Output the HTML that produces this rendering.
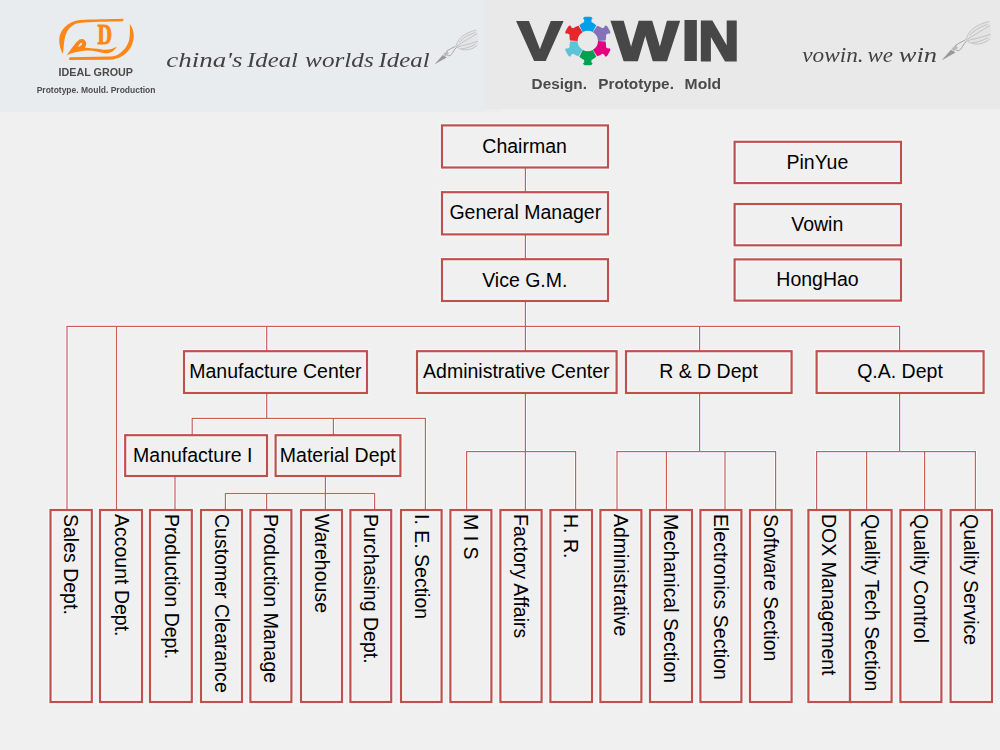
<!DOCTYPE html>
<html lang="en"><head><meta charset="utf-8"><title>Organization Chart</title>
<style>
html,body{margin:0;padding:0;background:#f0f0f0;}
body{width:1000px;height:750px;overflow:hidden;position:relative;font-family:"Liberation Sans",Arial,sans-serif;}
svg{position:absolute;left:0;top:0;display:block}
text{font-family:"Liberation Sans",Arial,sans-serif;}
.b{fill:none;stroke:#c0504d;stroke-width:2.2}
.l{fill:#c8605d}
text.bd{font-weight:bold}
text.s{font-family:"Liberation Serif",serif;font-style:italic}
.hd text{filter:grayscale(1)}
.hd text.og{filter:none;font-family:"Liberation Serif",serif;font-weight:bold}
.t{font-size:19.5px;fill:#000;text-anchor:middle}
.v{font-size:19.5px;fill:#000;text-anchor:start}
</style></head><body>
<svg width="1000" height="750" viewBox="0 0 1000 750">

<g class="hd">
<rect x="0" y="0" width="484" height="112.2" fill="#e9ecee"/>
<rect x="484" y="0" width="516" height="109.2" fill="#e9e9e9"/>
<rect x="484" y="109" width="18" height="3.2" fill="#eceeee"/>
<text font-weight="bold" font-size="100" fill="#4a4645" transform="translate(517.6,59.8) scale(0.6698,0.5518)" stroke="#4a4645" stroke-width="2.4" vector-effect="non-scaling-stroke" stroke-linejoin="miter" stroke-miterlimit="2">V</text>
<text font-weight="bold" font-size="100" fill="#4a4645" transform="translate(612.3,59.7) scale(0.7009,0.5490)" stroke="#4a4645" stroke-width="2.6" vector-effect="non-scaling-stroke" stroke-linejoin="miter" stroke-miterlimit="2">W</text>
<text font-weight="bold" font-size="100" fill="#4a4645" transform="translate(678.64,61) scale(0.8576,0.5860)">I</text>
<text font-weight="bold" font-size="100" fill="#4a4645" transform="translate(698.48,59.6) scale(0.5625,0.5461)" stroke="#4a4645" stroke-width="2.8" vector-effect="non-scaling-stroke" stroke-linejoin="miter" stroke-miterlimit="2">N</text>
<text font-weight="bold" font-size="100" fill="#4a4a4c" transform="translate(58.53,75.73) scale(0.1076,0.1099)">IDEAL GROUP</text>
<text font-weight="bold" font-size="100" fill="#4c4c4e" transform="translate(36.67,92.63) scale(0.0850,0.0902)">Prototype. Mould. Production</text>
<text class="og" font-size="100" fill="#fb8719" transform="translate(97.54,44.1) scale(0.2009,0.2902)" stroke="#fb8719" stroke-width="0.9" vector-effect="non-scaling-stroke" stroke-linejoin="miter" stroke-miterlimit="2">D</text>
<text class="bd" y="88.55" font-size="14.1" fill="#4c4a4a"><tspan x="531.64" textLength="55.26" lengthAdjust="spacingAndGlyphs">Design.</tspan> <tspan x="598.24" textLength="75.66" lengthAdjust="spacingAndGlyphs">Prototype.</tspan> <tspan x="684.62" textLength="36.58" lengthAdjust="spacingAndGlyphs">Mold</tspan></text>
<text class="s" y="67.2" font-size="20.7" fill="#444242"><tspan x="166.38" textLength="76.23" lengthAdjust="spacingAndGlyphs">china's</tspan> <tspan x="247.09" textLength="50.92" lengthAdjust="spacingAndGlyphs">Ideal</tspan> <tspan x="305.11" textLength="68.64" lengthAdjust="spacingAndGlyphs">worlds</tspan> <tspan x="378.59" textLength="51.02" lengthAdjust="spacingAndGlyphs">Ideal</tspan></text>
<text class="s" y="62.4" font-size="21.4" fill="#444242"><tspan x="802.2" textLength="61.42" lengthAdjust="spacingAndGlyphs">vowin.</tspan> <tspan x="867.44" textLength="25.57" lengthAdjust="spacingAndGlyphs">we</tspan> <tspan x="898.79" textLength="38.24" lengthAdjust="spacingAndGlyphs">win</tspan></text>
<path fill="#fb8719" d="M123.6,18.8 C108,19.2 92,19.4 80,20 C68,21 59.4,30 59.2,40 C59.2,45.5 60.8,50.5 62.9,54 C63.6,49 63.6,45 64.4,40.5 C65.6,32 70,24.4 79,23 C92,21.6 108,21.6 123,21.2 Z"/>
<path fill="#fb8719" d="M129.8,24 C132.6,27.5 133.9,32 133.8,36.6 C133.4,45 129,52.5 121.5,56.6 C117.5,58.8 114,59.6 110,59.8 L69.6,60 C68.6,59.2 68.8,58 70,57.2 L110,56.6 C114,56.4 117,55.4 120,53.2 C125.5,49 129,43.5 129.6,37 C130,32.5 130,28 129.8,24 Z"/>
<path fill="#fb8719" fill-rule="evenodd" d="M66.8,55.2 C71,49.6 75,43 79.4,39.6 C82.6,37.8 85.8,39.8 86.2,43 C86.4,45 85.6,46.6 85,47.8 C90,48.2 96,48.6 102,49.4 C107,50.2 112,49.4 116.9,46.4 C114.5,50.6 110.5,53.4 105.5,53.2 C99,52.6 93,50.4 87,50.6 C80,50.8 73,52.6 66.8,55.2 Z M78,46.8 C79.6,46.6 81.4,45.6 82.2,44 C82.6,42.8 81.6,42.2 80.6,43 C79.6,44 78.6,45.4 78,46.8 Z"/>
<path fill="#00a0e9" d="M582.79,32.11 L579.33,25.34 A19.3,19.3 0 0 1 584.12,22.05 L584.25,19.79 L583,18.4 Q583.9,16.41 585.68,16.79 L589.92,16.79 Q591.7,16.41 592.6,18.4 L591.35,19.79 L591.48,22.05 A19.3,19.3 0 0 1 596.27,25.34 L592.81,32.11 A10.2,10.2 0 0 0 582.79,32.11 Z"/>
<path fill="#8770ba" d="M592.99,32.22 L597.13,25.84 A19.3,19.3 0 0 1 602.37,28.34 L604.39,27.32 L604.97,25.54 Q607.15,25.33 607.71,27.06 L609.82,30.73 Q611.05,32.08 609.77,33.86 L607.94,33.47 L606.05,34.72 A19.3,19.3 0 0 1 605.59,40.5 L598,40.89 A10.2,10.2 0 0 0 592.99,32.22 Z"/>
<path fill="#e4007f" d="M598,41.11 L605.59,41.5 A19.3,19.3 0 0 1 606.05,47.28 L607.94,48.53 L609.77,48.14 Q611.05,49.92 609.82,51.27 L607.71,54.94 Q607.15,56.67 604.97,56.46 L604.39,54.68 L602.37,53.66 A19.3,19.3 0 0 1 597.13,56.16 L592.99,49.78 A10.2,10.2 0 0 0 598,41.11 Z"/>
<path fill="#00a151" d="M592.81,49.89 L596.27,56.66 A19.3,19.3 0 0 1 591.48,59.95 L591.35,62.21 L592.6,63.6 Q591.7,65.59 589.92,65.21 L585.68,65.21 Q583.9,65.59 583,63.6 L584.25,62.21 L584.12,59.95 A19.3,19.3 0 0 1 579.33,56.66 L582.79,49.89 A10.2,10.2 0 0 0 592.81,49.89 Z"/>
<path fill="#5fc3d8" d="M582.61,49.78 L578.47,56.16 A19.3,19.3 0 0 1 573.23,53.66 L571.21,54.68 L570.63,56.46 Q568.45,56.67 567.89,54.94 L565.78,51.27 Q564.55,49.92 565.83,48.14 L567.66,48.53 L569.55,47.28 A19.3,19.3 0 0 1 570.01,41.5 L577.6,41.11 A10.2,10.2 0 0 0 582.61,49.78 Z"/>
<path fill="#e7262b" d="M577.6,40.89 L570.01,40.5 A19.3,19.3 0 0 1 569.55,34.72 L567.66,33.47 L565.83,33.86 Q564.55,32.08 565.78,30.73 L567.89,27.06 Q568.45,25.33 570.63,25.54 L571.21,27.32 L573.23,28.34 A19.3,19.3 0 0 1 578.47,25.84 L582.61,32.22 A10.2,10.2 0 0 0 577.6,40.89 Z"/>
<defs><filter id="pb" x="-20%" y="-20%" width="140%" height="140%"><feGaussianBlur stdDeviation="0.35"/></filter></defs>
<g filter="url(#pb)">
<path d="M434.3,64.4 L442.8,54.9 L446.8,57.4 Z" fill="#858585" opacity="0.8"/>
<path d="M443.3,53.9 L447.3,50.9 L448.8,53.4 L445.3,56.4 Z" fill="#909090" opacity="0.55"/>
<path d="M446.3,51.4 C449.3,49.4 452.3,47.9 455.3,46.4 M447.3,55.4 C450.3,56.4 451.3,54.9 452.8,52.4 C453.8,50.4 455.3,48.4 456.8,46.9" fill="none" stroke="#8c8c8c" stroke-width="1" opacity="0.75"/>
<path d="M455.8,46.4 C458.3,38.4 463.3,32.4 477.3,29.9 C478.3,34.4 478.3,40.4 477.8,44.9 C470.3,51.4 462.3,50.9 455.8,46.4 Z" fill="#d0d0d0" opacity="0.25"/>
<path d="M455.8,46.4 C458.3,38.4 463.3,33.4 476.3,29.9 M456.3,46.4 C462.3,42.4 469.3,38.4 477.3,33.4 M457.3,46.9 C464.3,45.4 471.3,43.4 477.8,41.4 M457.3,47.4 C462.3,50.9 470.3,51.4 477.3,45.4 M461.3,48.9 C466.3,48.4 470.3,46.9 475.3,44.4 M459.3,42.4 C464.3,36.4 470.3,34.4 475.3,32.4" fill="none" stroke="#a8a8a8" stroke-width="0.9" opacity="0.6"/>
</g>
<g filter="url(#pb)">
<path d="M941.4,60.4 L951,49.66 L955.52,52.49 Z" fill="#858585" opacity="0.8"/>
<path d="M951.57,48.53 L956.09,45.14 L957.78,47.97 L953.83,51.36 Z" fill="#909090" opacity="0.55"/>
<path d="M954.96,45.71 C958.35,43.45 961.74,41.75 965.13,40.06 M956.09,50.23 C959.48,51.36 960.61,49.66 962.3,46.84 C963.43,44.58 965.13,42.32 966.82,40.62" fill="none" stroke="#8c8c8c" stroke-width="1" opacity="0.75"/>
<path d="M965.69,40.06 C968.52,31.02 974.17,24.24 989.99,21.41 C991.12,26.5 991.12,33.28 990.55,38.37 C982.08,45.71 973.04,45.14 965.69,40.06 Z" fill="#d0d0d0" opacity="0.25"/>
<path d="M965.69,40.06 C968.52,31.02 974.17,25.37 988.86,21.41 M966.26,40.06 C973.04,35.54 980.95,31.02 989.99,25.37 M967.39,40.62 C975.3,38.93 983.21,36.67 990.55,34.41 M967.39,41.19 C973.04,45.14 982.08,45.71 989.99,38.93 M971.91,42.89 C977.56,42.32 982.08,40.62 987.73,37.8 M969.65,35.54 C975.3,28.76 982.08,26.5 987.73,24.24" fill="none" stroke="#a8a8a8" stroke-width="0.9" opacity="0.6"/>
</g>
</g>
<g fill="#f7fcfc">
<rect x="523.8" y="168" width="3.2" height="24"/>
<rect x="523.8" y="235" width="3.2" height="23.5"/>
<rect x="523.8" y="301.5" width="3.2" height="49.5"/>
<rect x="65.5" y="324.8" width="835.6" height="3.2"/>
<rect x="65.4" y="326.4" width="3.2" height="183.1"/>
<rect x="114.9" y="326.4" width="3.2" height="183.1"/>
<rect x="265.1" y="326.4" width="3.2" height="24.6"/>
<rect x="698" y="326.4" width="3.2" height="24.6"/>
<rect x="898" y="326.4" width="3.2" height="24.6"/>
<rect x="265.1" y="393" width="3.2" height="25.4"/>
<rect x="190.7" y="416.8" width="236.2" height="3.2"/>
<rect x="190.6" y="418.4" width="3.2" height="16.6"/>
<rect x="331.8" y="418.4" width="3.2" height="16.6"/>
<rect x="423.8" y="418.4" width="3.2" height="91.1"/>
<rect x="173.4" y="476.5" width="3.2" height="33"/>
<rect x="323.8" y="476.5" width="3.2" height="33"/>
<rect x="223.9" y="491.9" width="152.2" height="3.2"/>
<rect x="223.8" y="493.5" width="3.2" height="16"/>
<rect x="265" y="493.5" width="3.2" height="16"/>
<rect x="373" y="493.5" width="3.2" height="16"/>
<rect x="523.8" y="393" width="3.2" height="116.5"/>
<rect x="465.1" y="450" width="112" height="3.2"/>
<rect x="465" y="451.6" width="3.2" height="57.9"/>
<rect x="574" y="451.6" width="3.2" height="57.9"/>
<rect x="698" y="393" width="3.2" height="58.6"/>
<rect x="615.5" y="450" width="161.6" height="3.2"/>
<rect x="615.4" y="451.6" width="3.2" height="57.9"/>
<rect x="664.8" y="451.6" width="3.2" height="57.9"/>
<rect x="723.4" y="451.6" width="3.2" height="57.9"/>
<rect x="774" y="451.6" width="3.2" height="57.9"/>
<rect x="898" y="393" width="3.2" height="58.6"/>
<rect x="815.1" y="450" width="161.8" height="3.2"/>
<rect x="815" y="451.6" width="3.2" height="57.9"/>
<rect x="865" y="451.6" width="3.2" height="57.9"/>
<rect x="923" y="451.6" width="3.2" height="57.9"/>
<rect x="973.8" y="451.6" width="3.2" height="57.9"/>
</g>
<g fill="none" stroke="#f7fcfc" stroke-width="4.4">
<rect x="442" y="125.4" width="166" height="42.1"/>
<rect x="442" y="192.2" width="166" height="42.2"/>
<rect x="442" y="259.2" width="166" height="41.8"/>
<rect x="734.6" y="141.8" width="166.4" height="41.3"/>
<rect x="734.6" y="204" width="166.4" height="41.3"/>
<rect x="734.6" y="259.4" width="166.4" height="41.2"/>
<rect x="184" y="351.2" width="183" height="41.8"/>
<rect x="417" y="351.2" width="199.6" height="41.8"/>
<rect x="626" y="351.2" width="165.6" height="41.8"/>
<rect x="816.6" y="351.2" width="167" height="41.8"/>
<rect x="125.2" y="435.2" width="141.8" height="40.8"/>
<rect x="275.6" y="435.2" width="124.8" height="40.8"/>
<rect x="50.5" y="510" width="41.3" height="192"/>
<rect x="100" y="510" width="42" height="192"/>
<rect x="150" y="510" width="41.8" height="192"/>
<rect x="201" y="510" width="41" height="192"/>
<rect x="250.4" y="510" width="41" height="192"/>
<rect x="301" y="510" width="41" height="192"/>
<rect x="350.4" y="510" width="40.8" height="192"/>
<rect x="401" y="510" width="40.6" height="192"/>
<rect x="450.4" y="510" width="41" height="192"/>
<rect x="500.4" y="510" width="41.2" height="192"/>
<rect x="550.4" y="510" width="41.6" height="192"/>
<rect x="600.4" y="510" width="41" height="192"/>
<rect x="650" y="510" width="42" height="192"/>
<rect x="700.4" y="510" width="41" height="192"/>
<rect x="750" y="510" width="41.6" height="192"/>
<rect x="808.4" y="510" width="41.6" height="192"/>
<rect x="850" y="510" width="41.6" height="192"/>
<rect x="900.4" y="510" width="41" height="192"/>
<rect x="950.6" y="510" width="41.4" height="192"/>
</g>
<g class="l">
<rect x="524.8" y="168" width="1.2" height="24"/>
<rect x="524.8" y="235" width="1.2" height="23.5"/>
<rect x="524.8" y="301.5" width="1.2" height="49.5"/>
<rect x="66.5" y="325.8" width="833.6" height="1.2"/>
<rect x="66.4" y="326.4" width="1.2" height="183.1"/>
<rect x="115.9" y="326.4" width="1.2" height="183.1"/>
<rect x="266.1" y="326.4" width="1.2" height="24.6"/>
<rect x="699" y="326.4" width="1.2" height="24.6"/>
<rect x="899" y="326.4" width="1.2" height="24.6"/>
<rect x="266.1" y="393" width="1.2" height="25.4"/>
<rect x="191.7" y="417.8" width="234.2" height="1.2"/>
<rect x="191.6" y="418.4" width="1.2" height="16.6"/>
<rect x="332.8" y="418.4" width="1.2" height="16.6"/>
<rect x="424.8" y="418.4" width="1.2" height="91.1"/>
<rect x="174.4" y="476.5" width="1.2" height="33"/>
<rect x="324.8" y="476.5" width="1.2" height="33"/>
<rect x="224.9" y="492.9" width="150.2" height="1.2"/>
<rect x="224.8" y="493.5" width="1.2" height="16"/>
<rect x="266" y="493.5" width="1.2" height="16"/>
<rect x="374" y="493.5" width="1.2" height="16"/>
<rect x="524.8" y="393" width="1.2" height="116.5"/>
<rect x="466.1" y="451" width="110" height="1.2"/>
<rect x="466" y="451.6" width="1.2" height="57.9"/>
<rect x="575" y="451.6" width="1.2" height="57.9"/>
<rect x="699" y="393" width="1.2" height="58.6"/>
<rect x="616.5" y="451" width="159.6" height="1.2"/>
<rect x="616.4" y="451.6" width="1.2" height="57.9"/>
<rect x="665.8" y="451.6" width="1.2" height="57.9"/>
<rect x="724.4" y="451.6" width="1.2" height="57.9"/>
<rect x="775" y="451.6" width="1.2" height="57.9"/>
<rect x="899" y="393" width="1.2" height="58.6"/>
<rect x="816.1" y="451" width="159.8" height="1.2"/>
<rect x="816" y="451.6" width="1.2" height="57.9"/>
<rect x="866" y="451.6" width="1.2" height="57.9"/>
<rect x="924" y="451.6" width="1.2" height="57.9"/>
<rect x="974.8" y="451.6" width="1.2" height="57.9"/>
</g>
<rect class="b" x="442" y="125.4" width="166" height="42.1"/>
<text class="t" x="524.6" y="153">Chairman</text>
<rect class="b" x="442" y="192.2" width="166" height="42.2"/>
<text class="t" x="525.3" y="219">General Manager</text>
<rect class="b" x="442" y="259.2" width="166" height="41.8"/>
<text class="t" x="524.8" y="287">Vice G.M.</text>
<rect class="b" x="734.6" y="141.8" width="166.4" height="41.3"/>
<text class="t" x="817.4" y="169">PinYue</text>
<rect class="b" x="734.6" y="204" width="166.4" height="41.3"/>
<text class="t" x="817.3" y="231">Vowin</text>
<rect class="b" x="734.6" y="259.4" width="166.4" height="41.2"/>
<text class="t" x="817.5" y="286">HongHao</text>
<rect class="b" x="184" y="351.2" width="183" height="41.8"/>
<text class="t" x="275.4" y="378">Manufacture Center</text>
<rect class="b" x="417" y="351.2" width="199.6" height="41.8"/>
<text class="t" x="516.3" y="378">Administrative Center</text>
<rect class="b" x="626" y="351.2" width="165.6" height="41.8"/>
<text class="t" x="708.5" y="378">R &amp; D Dept</text>
<rect class="b" x="816.6" y="351.2" width="167" height="41.8"/>
<text class="t" x="900" y="378">Q.A. Dept</text>
<rect class="b" x="125.2" y="435.2" width="141.8" height="40.8"/>
<text class="t" x="192.7" y="462">Manufacture I</text>
<rect class="b" x="275.6" y="435.2" width="124.8" height="40.8"/>
<text class="t" x="337.8" y="462">Material Dept</text>
<rect class="b" x="50.5" y="510" width="41.3" height="192"/>
<text class="v" transform="translate(64,514) rotate(90)">Sales Dept.</text>
<rect class="b" x="100" y="510" width="42" height="192"/>
<text class="v" transform="translate(114.6,514) rotate(90)">Account Dept.</text>
<rect class="b" x="150" y="510" width="41.8" height="192"/>
<text class="v" transform="translate(164.6,514) rotate(90)">Production Dept.</text>
<rect class="b" x="201" y="510" width="41" height="192"/>
<text class="v" transform="translate(214.6,514) rotate(90)">Customer Clearance</text>
<rect class="b" x="250.4" y="510" width="41" height="192"/>
<text class="v" transform="translate(263.6,514) rotate(90)">Production Manage</text>
<rect class="b" x="301" y="510" width="41" height="192"/>
<text class="v" transform="translate(314.6,514) rotate(90)">Warehouse</text>
<rect class="b" x="350.4" y="510" width="40.8" height="192"/>
<text class="v" transform="translate(363.6,514) rotate(90)">Purchasing Dept.</text>
<rect class="b" x="401" y="510" width="40.6" height="192"/>
<text class="v" transform="translate(414.6,514) rotate(90)">I. E. Section</text>
<rect class="b" x="450.4" y="510" width="41" height="192"/>
<text class="v" transform="translate(463.6,514) rotate(90)">M I S</text>
<rect class="b" x="500.4" y="510" width="41.2" height="192"/>
<text class="v" transform="translate(514.2,514) rotate(90)">Factory Affairs</text>
<rect class="b" x="550.4" y="510" width="41.6" height="192"/>
<text class="v" transform="translate(563.6,514) rotate(90)">H. R.</text>
<rect class="b" x="600.4" y="510" width="41" height="192"/>
<text class="v" transform="translate(614.2,514) rotate(90)">Administrative</text>
<rect class="b" x="650" y="510" width="42" height="192"/>
<text class="v" transform="translate(663.6,514) rotate(90)">Mechanical Section</text>
<rect class="b" x="700.4" y="510" width="41" height="192"/>
<text class="v" transform="translate(713.6,514) rotate(90)">Electronics Section</text>
<rect class="b" x="750" y="510" width="41.6" height="192"/>
<text class="v" transform="translate(763.6,514) rotate(90)">Software Section</text>
<rect class="b" x="808.4" y="510" width="41.6" height="192"/>
<text class="v" transform="translate(822,514) rotate(90)">DOX Management</text>
<rect class="b" x="850" y="510" width="41.6" height="192"/>
<text class="v" transform="translate(865,514) rotate(90)">Quality Tech Section</text>
<rect class="b" x="900.4" y="510" width="41" height="192"/>
<text class="v" transform="translate(914,514) rotate(90)">Quality Control</text>
<rect class="b" x="950.6" y="510" width="41.4" height="192"/>
<text class="v" transform="translate(964.4,514) rotate(90)">Quality Service</text>
</svg></body></html>
